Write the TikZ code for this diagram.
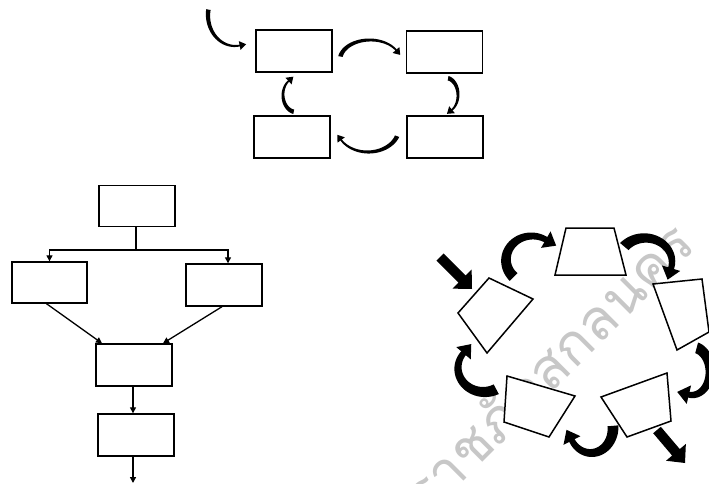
\documentclass[tikz,border=0pt]{standalone}
\usepackage{fontspec}
\newfontfamily\thaifont[Script=Thai]{Loma}
\usetikzlibrary{arrows.meta,calc}

% tapered curved block arrow on an ellipse: cx cy rx ry a1 a2 w1 w2 ; head size from \cwhw \cwhl
\newcommand{\carw}[8]{%
 \pgfmathsetmacro\cwsg{ifthenelse(#6>#5,1,-1)}%
 \pgfmathsetmacro\cwtx{\cwsg*(-(#3)*sin(#6))}%
 \pgfmathsetmacro\cwty{\cwsg*((#4)*cos(#6))}%
 \pgfmathsetmacro\cwtn{sqrt((\cwtx)*(\cwtx)+(\cwty)*(\cwty))}%
 \pgfmathsetmacro\cwux{(\cwtx)/(\cwtn)}%
 \pgfmathsetmacro\cwuy{(\cwty)/(\cwtn)}%
 \pgfmathsetmacro\cwbx{#1+(#3)*cos(#6)}%
 \pgfmathsetmacro\cwby{#2+(#4)*sin(#6)}%
 \pgfmathsetmacro\cwe{#6+\cwsg*3}%
 \fill plot[domain=#5:\cwe,samples=40,variable=\t]
   ({#1+((#3)+((#7)+((#8)-(#7))*(\t-(#5))/((#6)-(#5)))/2)*cos(\t)},
    {#2+((#4)+((#7)+((#8)-(#7))*(\t-(#5))/((#6)-(#5)))/2)*sin(\t)})
   -- plot[domain=\cwe:#5,samples=40,variable=\t]
   ({#1+((#3)-((#7)+((#8)-(#7))*(\t-(#5))/((#6)-(#5)))/2)*cos(\t)},
    {#2+((#4)-((#7)+((#8)-(#7))*(\t-(#5))/((#6)-(#5)))/2)*sin(\t)}) -- cycle;
 \fill ({\cwbx+(\cwhw)/2*(-(\cwuy))},{\cwby+(\cwhw)/2*(\cwux)})
   -- ({\cwbx+(\cwhl)*(\cwux)},{\cwby+(\cwhl)*(\cwuy)})
   -- ({\cwbx-(\cwhw)/2*(-(\cwuy))},{\cwby-(\cwhw)/2*(\cwux)}) -- cycle;
}

% straight block arrow: x1 y1 x2 y2 shaftw headw headl
\newcommand{\barw}[7]{%
 \pgfmathsetmacro\bwdx{(#3)-(#1)}%
 \pgfmathsetmacro\bwdy{(#4)-(#2)}%
 \pgfmathsetmacro\bwl{sqrt((\bwdx)*(\bwdx)+(\bwdy)*(\bwdy))}%
 \pgfmathsetmacro\bwux{(\bwdx)/(\bwl)}%
 \pgfmathsetmacro\bwuy{(\bwdy)/(\bwl)}%
 \pgfmathsetmacro\bwnx{-1*(\bwuy)}%
 \pgfmathsetmacro\bwny{\bwux}%
 \pgfmathsetmacro\bwbx{(#3)-(#7)*(\bwux)}%
 \pgfmathsetmacro\bwby{(#4)-(#7)*(\bwuy)}%
 \fill ({#1+(#5)/2*(\bwnx)},{#2+(#5)/2*(\bwny)})
   -- ({\bwbx+(#5)/2*(\bwnx)},{\bwby+(#5)/2*(\bwny)})
   -- ({\bwbx+(#6)/2*(\bwnx)},{\bwby+(#6)/2*(\bwny)})
   -- (#3,#4)
   -- ({\bwbx-(#6)/2*(\bwnx)},{\bwby-(#6)/2*(\bwny)})
   -- ({\bwbx-(#5)/2*(\bwnx)},{\bwby-(#5)/2*(\bwny)})
   -- ({#1-(#5)/2*(\bwnx)},{#2-(#5)/2*(\bwny)}) -- cycle;
}

\tikzset{
  box/.style={draw, line width=1.4pt, minimum width=76pt, minimum height=42pt, inner sep=0pt},
  quad/.style={draw, line width=1.5pt, line join=miter, fill=white},
  flow/.style={line width=1.3pt, -{Triangle[length=6pt,width=6pt]}},
  plain/.style={line width=1.3pt},
  wmark/.style={text=black!22, font=\thaifont\fontsize{56}{60}\selectfont, rotate=45, inner sep=0pt}
}

\begin{document}
\begin{tikzpicture}[x=1pt,y=-1pt]
\useasboundingbox (0,0) rectangle (709,484);
\fill[white] (0,0) rectangle (709,484);

% watermark
\begin{scope}
\clip (0,0) rectangle (709,484);
\node[wmark, anchor=base east] (wm) at (698,247) {มหาวิทยาลัยราชภัฏสกลนคร};
\end{scope}

% ---------- top cycle ----------
\node[box] (A) at (294,51) {};
\node[box] (B) at (444.5,52) {};
\node[box] (C) at (292,137) {};
\node[box] (D) at (445,137) {};
\def\cwhw{9}\def\cwhl{6.5}
\carw{235}{15}{27}{31}{190}{80}{4.5}{1.8}
\carw{370}{60}{30}{20}{190}{330}{4.5}{1.8}
\carw{446}{95}{12}{17}{280}{420}{4.5}{1.8}
\carw{368}{128}{31}{24}{20}{150}{4.5}{1.8}
\carw{296}{95}{13}{17}{100}{235}{4.5}{1.8}

% ---------- flowchart ----------
\node[box, minimum height=41pt] (F1) at (137,206) {};
\node[box, minimum width=75pt, minimum height=41pt] (F2) at (49.5,282.5) {};
\node[box] (F3) at (224,285) {};
\node[box] (F4) at (134,365) {};
\node[box] (F5) at (136,435) {};
\coordinate (J) at (136,250);
\coordinate (Out) at (133,483);
\draw[plain] (F1.south -| J) -- (J);
\draw[flow] (J) -| (F2.north);
\draw[flow] (J) -| ([xshift=4pt]F3.north);
\draw[flow] ([xshift=-3pt]F2.south) -- ([xshift=-32pt]F4.north);
\draw[flow] ([xshift=-2pt]F3.south) -- ([xshift=29pt]F4.north);
\draw[flow] (F4.south -| Out) -- (F5.north -| Out);
\draw[flow] (F5.south -| Out) -- (Out);

% ---------- right cycle ----------
\draw[quad] (566,228) -- (614,228) -- (626,275) -- (555,275) -- cycle;
\draw[quad] (489,278) -- (533,299) -- (487,353) -- (458,313) -- cycle;
\draw[quad] (653,284) -- (702,279) -- (709,332) -- (677,350) -- cycle;
\draw[quad] (507,376) -- (575,396) -- (549,437) -- (504,422) -- cycle;
\draw[quad] (601,397) -- (667,373) -- (671,421) -- (627,437) -- cycle;
\def\cwhw{19}\def\cwhl{12}
\carw{532}{260}{26}{24}{135}{302}{11}{6}
\carw{645}{262}{27}{24}{220}{375}{11}{6}
\carw{692}{371}{18}{24}{-75}{100}{11}{6}
\carw{591}{428}{22}{25}{-5}{150}{11}{6}
\carw{484}{368}{26}{24}{62}{218}{11}{6}
\barw{440}{257}{472}{289}{10}{27}{14}
\barw{657}{430}{685}{463}{10}{26}{14}
\end{tikzpicture}
\end{document}
